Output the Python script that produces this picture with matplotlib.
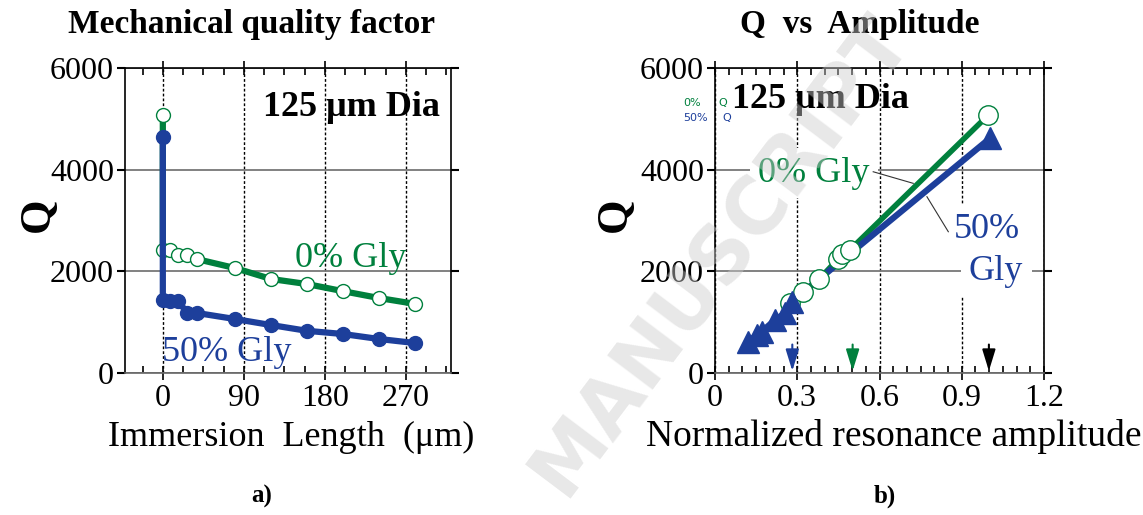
import matplotlib
matplotlib.use('Agg')
import matplotlib.pyplot as plt
from matplotlib.ticker import MultipleLocator

plt.rcParams['font.family'] = ['Liberation Serif', 'DejaVu Serif']

GREEN = '#00803d'
BLUE = '#1d3f9b'

# a) Q vs immersion length (first point at 0 = in air)
length_gly0 = [0, 0, 8, 17, 27, 38, 80, 120, 160, 200, 240, 280]
q_gly0 = [5075, 2420, 2420, 2320, 2320, 2240, 2065, 1850, 1750, 1610, 1475, 1360]
length_gly50 = [0, 0, 8, 17, 27, 38, 80, 120, 160, 200, 240, 280]
q_gly50 = [4643, 1436, 1410, 1420, 1180, 1180, 1062, 944, 830, 767, 669, 590]

# b) Q vs normalized resonance amplitude
amp_gly0 = [0.273, 0.322, 0.379, 0.450, 0.462, 0.492, 0.997]
qa_gly0 = [1370, 1590, 1840, 2250, 2340, 2420, 5075]
amp_gly50 = [0.121, 0.152, 0.170, 0.219, 0.255, 0.280, 1.003]
qa_gly50 = [616, 748, 812, 1043, 1174, 1403, 4617]

arrow_amp = [0.282, 0.502, 0.999]
arrow_col = [BLUE, GREEN, 'black']

len_ticks = [0, 90, 180, 270]
amp_ticks = [0, 0.3, 0.6, 0.9, 1.2]
q_ticks = [0, 2000, 4000, 6000]

W, H = 1143, 515
fig = plt.figure(figsize=(W / 100, H / 100), dpi=100)


def fx(px):
    return px / W


def fy(py):
    return 1 - py / H


def style_axes(ax, minor):
    ax.set_ylim(0, 6000)
    ax.set_yticks(q_ticks)
    ax.xaxis.set_minor_locator(MultipleLocator(minor))
    ax.tick_params(axis='x', which='major', direction='inout', length=10, width=1.2,
                   top=True, labelsize=23, pad=3)
    ax.tick_params(axis='x', which='minor', direction='in', length=5, width=1.2, top=True)
    ax.tick_params(axis='y', which='major', direction='out', length=6, width=1.5,
                   right=True, labelsize=23, pad=2)
    ax.xaxis.grid(True, color='black', ls=(0, (2, 1.5)), lw=1.0)
    ax.yaxis.grid(True, color='#777777', lw=1.3)
    for s in ax.spines.values():
        s.set_linewidth(1.2)
    ax.spines['bottom'].set_color('#666666')


ax1 = fig.add_axes([fx(125), fy(373), fx(451 - 125), fy(68) - fy(373)])
ax1.plot(length_gly0, q_gly0, '-o', color=GREEN, lw=4.5, ms=10, mfc='white',
         mec=GREEN, mew=1.0, zorder=3)
ax1.plot(length_gly50, q_gly50, '-o', color=BLUE, lw=4.5, ms=10, mfc=BLUE,
         mec=BLUE, zorder=4)
ax1.set_xlim(-42, 320)
ax1.set_xticks(len_ticks)
style_axes(ax1, 22.5)
ax1.text(210, 5230, '125 \u03bcm Dia', fontsize=26, fontweight='bold', ha='center', va='center')
ax1.text(209, 2262, '0% Gly', color=GREEN, fontsize=26, ha='center', va='center', zorder=5)
ax1.text(71, 413, '50% Gly', color=BLUE, fontsize=26, ha='center', va='center', zorder=5)

ax2 = fig.add_axes([fx(715), fy(373), fx(1044 - 715), fy(68) - fy(373)])
ax2.plot(amp_gly0, qa_gly0, '-', color=GREEN, lw=4, zorder=3)
ax2.plot(amp_gly50, qa_gly50, '-', color=BLUE, lw=4.5, zorder=4)
ax2.plot(amp_gly0, qa_gly0, 'o', ms=14, mfc='white', mec=GREEN, mew=1.0, zorder=5)
ax2.plot(amp_gly50, qa_gly50, '^', ms=16, color=BLUE, zorder=6)
ax2.set_xlim(0, 1.2)
ax2.set_xticks(amp_ticks)
ax2.set_xticklabels(['0', '0.3', '0.6', '0.9', '1.2'])
style_axes(ax2, 0.05)
for a, c in zip(arrow_amp, arrow_col):
    ax2.annotate('', xy=(a, 40), xytext=(a, 560),
                 arrowprops=dict(arrowstyle='-|>,head_length=1.3,head_width=0.4',
                                 color=c, lw=1.5, mutation_scale=10, shrinkA=0, shrinkB=0),
                 zorder=7)
box = dict(facecolor='white', edgecolor='none', pad=6)
ax2.text(0.383, 5390, '125 \u03bcm Dia', fontsize=26, fontweight='bold', ha='center',
         va='center', zorder=2)
ax2.text(0.361, 3934, '0% Gly', color=GREEN, fontsize=26, ha='center', va='center',
         bbox=box, zorder=2.5)
ax2.text(0.99, 2830, '50%', color=BLUE, fontsize=26, ha='center', va='center',
         bbox=box, zorder=2.5)
ax2.text(1.025, 2000, 'Gly', color=BLUE, fontsize=26, ha='center', va='center',
         bbox=box, zorder=2.5)
ax2.plot([0.577, 0.723], [3959, 3731], color='#333333', lw=0.8, zorder=3)
ax2.plot([0.773, 0.851], [3468, 2779], color='#333333', lw=0.8, zorder=3)

# small legend left of the panel
fig.text(fx(683), fy(103), '0%', color=GREEN, fontsize=8, family='DejaVu Sans', va='center')
fig.text(fx(718), fy(103), 'Q', color=GREEN, fontsize=8, family='DejaVu Sans', va='center')
fig.text(fx(683), fy(118), '50%', color=BLUE, fontsize=8, family='DejaVu Sans', va='center')
fig.text(fx(722), fy(118), 'Q', color=BLUE, fontsize=8, family='DejaVu Sans', va='center')

fig.text(fx(252), fy(25), 'Mechanical quality factor', fontsize=24, fontweight='bold',
         ha='center', va='center')
fig.text(fx(860), fy(25), 'Q  vs  Amplitude', fontsize=24, fontweight='bold',
         ha='center', va='center')
fig.text(fx(38), fy(215), 'Q', fontsize=32, fontweight='bold', rotation=90,
         ha='center', va='center')
fig.text(fx(615), fy(215), 'Q', fontsize=32, fontweight='bold', rotation=90,
         ha='center', va='center')
fig.text(fx(291), fy(437), 'Immersion  Length  (\u03bcm)', fontsize=26, ha='center', va='center')
fig.text(fx(1141), fy(437), 'Normalized resonance amplitude', fontsize=27, ha='right',
         va='center')
fig.text(fx(262), fy(496), 'a)', fontsize=18, fontweight='bold', ha='center', va='center')
fig.text(fx(885), fy(496), 'b)', fontsize=18, fontweight='bold', ha='center', va='center')

# faint watermark
fig.text(fx(720), fy(255), 'MANUSCRIPT', fontsize=56, fontweight='bold', color='#cccccc',
         alpha=0.45, rotation=53, ha='center', va='center', family='DejaVu Sans', zorder=10)

fig.savefig('out.png', dpi=100)
